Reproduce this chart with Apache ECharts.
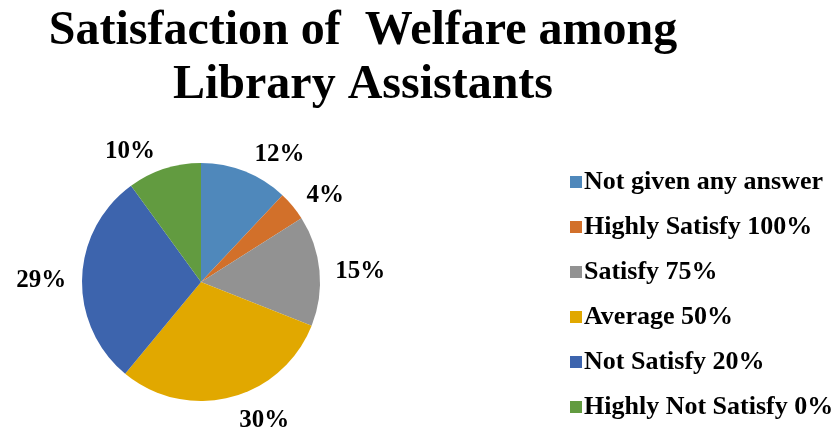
<!DOCTYPE html>
<html>
<head>
<meta charset="utf-8">
<script src="https://cdn.jsdelivr.net/npm/echarts@6/dist/echarts.min.js"></script>
<style>html,body{margin:0;padding:0;background:#fff;}#c{width:840px;height:437px;}</style>
</head>
<body>
<div id="c"></div>
<script>
var categories = ["Not given any answer", "Highly Satisfy 100%", "Satisfy 75%", "Average 50%", "Not Satisfy 20%", "Highly Not Satisfy 0%"];
var values = [12, 4, 15, 30, 29, 10];
var colors = ["#4F88BB", "#D2702A", "#929292", "#E1A800", "#3D64AD", "#629B40"];
var titleLines = ["Satisfaction of  Welfare among", "Library Assistants"];

var chart = echarts.init(document.getElementById('c'));
var font = "'Liberation Serif','Times New Roman',serif";
var CX = 201, CY = 282;
chart.setOption({
  animation: false,
  backgroundColor: '#fff',
  color: colors,
  title: {
    text: titleLines.join('\n'),
    left: 358, top: 0, textAlign: 'center',
    textStyle: { fontFamily: font, fontWeight: 'bold', fontSize: 48, lineHeight: 54, color: '#000' }
  },
  legend: {
    orient: 'vertical', left: 565, top: 164, itemGap: 19,
    itemWidth: 12, itemHeight: 12, icon: 'rect',
    textStyle: { fontFamily: font, fontWeight: 'bold', fontSize: 26, lineHeight: 26, color: '#000', padding: [0,0,0,-3] },
    data: categories
  },
  series: [{
    type: 'pie', center: [CX, CY], radius: 119, startAngle: 90, clockwise: true,
    label: { show: true, position: 'outside', formatter: '{d}%', fontFamily: font, fontWeight: 'bold', fontSize: 25, color: '#000' },
    labelLine: { show: false, length: 12, length2: 2 },
    labelLayout: function (p) {
      var r = p.labelRect;
      var mx = r.x + r.width / 2, my = r.y + r.height / 2;
      return { dx: -0.02 * (mx - CX), dy: 3 + 0.07 * (my - CY) };
    },
    itemStyle: { borderColor: '#fff', borderWidth: 0 },
    data: categories.map(function(c, i){ return { name: c, value: values[i] }; })
  }]
});
</script>
</body>
</html>
